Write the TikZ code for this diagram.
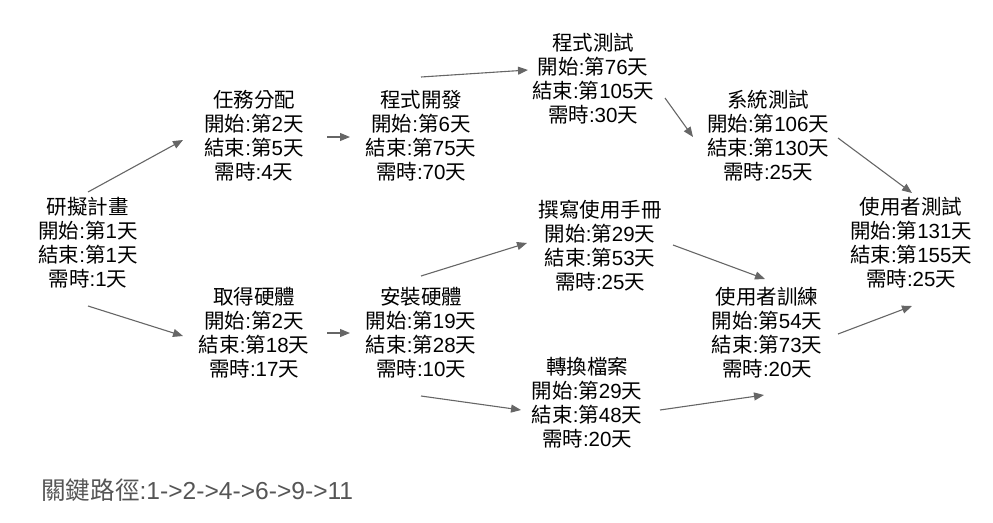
\documentclass[tikz,border=0pt]{standalone}
\usepackage{fontspec}
\setmainfont{Noto Sans CJK TC}
\newfontfamily\latinf{Liberation Sans}
\usetikzlibrary{arrows.meta,calc}
\XeTeXinterchartokenstate=1
\newXeTeXintercharclass\mycjk
\def\setcjk#1{\ifx#1\relax\else\XeTeXcharclass`#1=\mycjk\expandafter\setcjk\fi}
\setcjk 研擬計畫開始結束第天需時任務分配取得硬體程式發安裝測試撰寫使用手冊轉換檔案系統者訓練關鍵路徑\relax
\XeTeXinterchartoks \mycjk 0 = {\latinf}
\XeTeXinterchartoks 0 \mycjk = {\rmfamily}
\definecolor{arr}{HTML}{666666}
\definecolor{note}{HTML}{555555}
\tikzset{
  task/.style={align=center, inner sep=0pt, font=\fontsize{20.5}{24}\selectfont, text=black},
  link/.style={draw=arr, line width=1.1pt, -{Triangle[length=10pt,width=8pt]}}
}
\begin{document}
\begin{tikzpicture}[x=1pt,y=-1pt]
\useasboundingbox (0,0) rectangle (993,522);
\node[task] (n1) at (88,243) {研擬計畫\\開始:第1天\\結束:第1天\\需時:1天};
\node[task] (n2) at (254,136) {任務分配\\開始:第2天\\結束:第5天\\需時:4天};
\node[task] (n3) at (254,333) {取得硬體\\開始:第2天\\結束:第18天\\需時:17天};
\node[task] (n4) at (421,136) {程式開發\\開始:第6天\\結束:第75天\\需時:70天};
\node[task] (n5) at (421,333) {安裝硬體\\開始:第19天\\結束:第28天\\需時:10天};
\node[task] (n6) at (593,79) {程式測試\\開始:第76天\\結束:第105天\\需時:30天};
\node[task] (n7) at (600,246) {撰寫使用手冊\\開始:第29天\\結束:第53天\\需時:25天};
\node[task] (n8) at (587,403) {轉換檔案\\開始:第29天\\結束:第48天\\需時:20天};
\node[task] (n9) at (768,136) {系統測試\\開始:第106天\\結束:第130天\\需時:25天};
\node[task] (n10) at (767,333) {使用者訓練\\開始:第54天\\結束:第73天\\需時:20天};
\node[task] (n11) at (911,243) {使用者測試\\開始:第131天\\結束:第155天\\需時:25天};
\node[anchor=west, inner sep=0pt, text=note, font=\fontsize{24.6}{28}\selectfont] (cp) at (41,490) {關鍵路徑:1->2->4->6->9->11};
\draw[link] ($(n1)+(0,-51)$) -- ($(n2)+(-71,4)$);
\draw[link] ($(n1)+(0,63)$) -- ($(n3)+(-71,3)$);
\draw[link] ($(n2)+(73,1)$) -- ($(n4)+(-71,1)$);
\draw[link] ($(n3)+(73,0)$) -- ($(n5)+(-71,0)$);
\draw[link] ($(n4)+(0,-59)$) -- ($(n6)+(-65,-9)$);
\draw[link] ($(n5)+(0,-57)$) -- ($(n7)+(-73,-3)$);
\draw[link] ($(n5)+(0,63)$) -- ($(n8)+(-66,7)$);
\draw[link] ($(n6)+(72,19)$) -- ($(n9)+(-75,1)$);
\draw[link] ($(n7)+(73,-1)$) -- ($(n10)+(-2,-54)$);
\draw[link] ($(n8)+(73,7)$) -- ($(n10)+(-3,62)$);
\draw[link] ($(n9)+(70,2)$) -- ($(n11)+(1,-50)$);
\draw[link] ($(n10)+(71,1)$) -- ($(n11)+(1,63)$);
\end{tikzpicture}
\end{document}
